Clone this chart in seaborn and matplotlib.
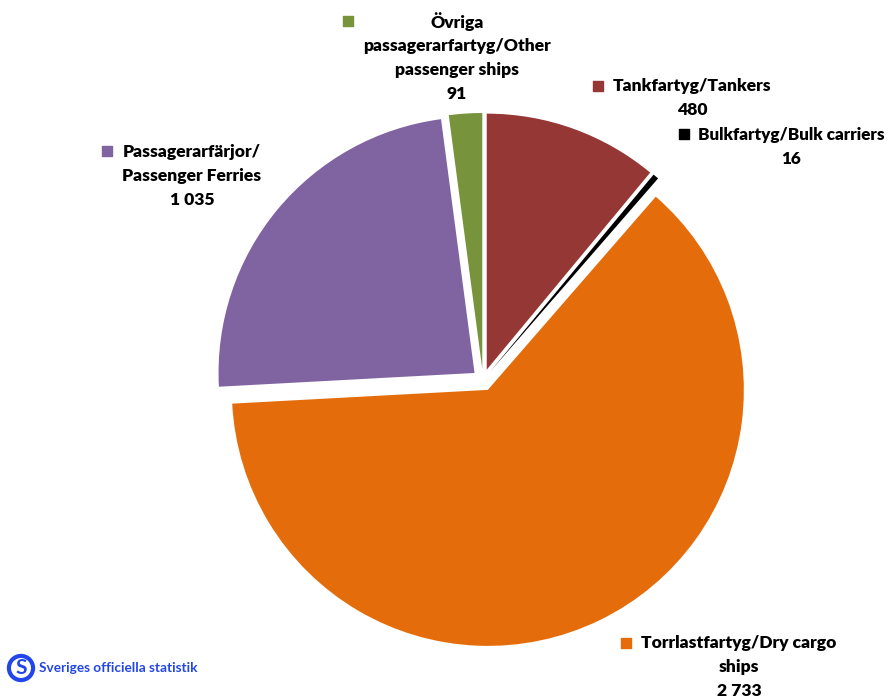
import matplotlib
matplotlib.use("Agg")
import matplotlib.pyplot as plt
import seaborn as sns

sns.set_theme(style="white")
plt.rcParams['font.family'] = ['Lato', 'DejaVu Sans']

# Data
labels = ["Tankfartyg/Tankers", "Bulkfartyg/Bulk carriers", "Torrlastfartyg/Dry cargo\nships",
          "Passagerarfärjor/\nPassenger Ferries", "Övriga\npassagerarfartyg/Other\npassenger ships"]
values = [480, 16, 2733, 1035, 91]
colors = ["#953735", "#000000", "#E46C0A", "#8064A2", "#77933C"]

def fmt(v):
    return f"{v:,}".replace(",", " ")

W, H = 889, 698
fig = plt.figure(figsize=(W / 100, H / 100), dpi=100)
ax = fig.add_axes([0, 0, 1, 1])

# explode is in data units here (pixels)
ax.pie(values, colors=colors, startangle=90, counterclock=False,
       center=(483, H - 380), radius=256, explode=[11] * len(values),
       wedgeprops=dict(linewidth=0))

# pie() resets the limits, so set them afterwards
ax.set_xlim(0, W)
ax.set_ylim(0, H)
ax.set_aspect("equal")
ax.axis("off")

# label positions (pixel coords from top-left): square, text center
label_pos = [
    ((598, 86), (692, 86)),
    ((684, 134), (791, 135)),
    ((626, 643), (739, 643)),
    ((107, 151), (192, 152)),
    ((348, 21), (457, 22)),
]
line_h = 24
for lab, val, col, (sq, tc) in zip(labels, values, colors, label_pos):
    ax.scatter([sq[0]], [H - sq[1]], marker="s", s=60, color=col, zorder=5)
    lines = lab.split("\n") + [fmt(val)]
    fs = 12.3 if "Bulk" in lab else 12.6
    for i, ln in enumerate(lines):
        ax.text(tc[0], H - (tc[1] + i * line_h), ln, ha="center", va="center",
                fontsize=fs, fontweight="heavy", color="#000000")

# SCB logo
blue = "#2346e8"
ax.text(21, H - 668, "S", ha="center", va="center", fontsize=15, fontweight="bold",
        color=blue, bbox=dict(boxstyle="circle,pad=0.1", fc="white", ec=blue, lw=3))
ax.text(39, H - 668, "Sveriges officiella statistik", ha="left", va="center",
        fontsize=9.8, fontweight="bold", color=blue)

fig.savefig("out.png", dpi=100)
